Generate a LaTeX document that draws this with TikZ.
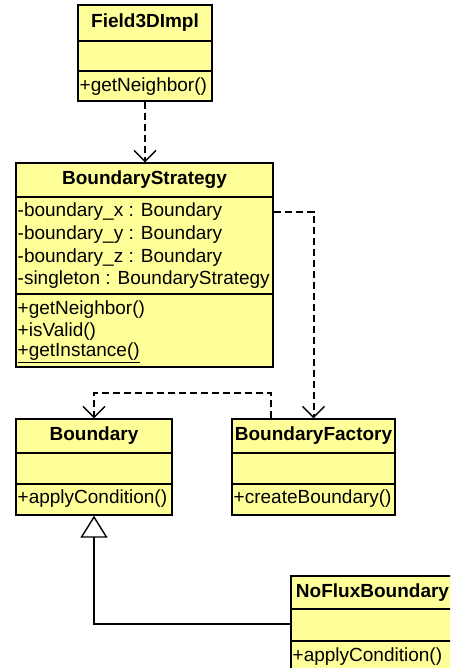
\documentclass[tikz,border=0pt]{standalone}
\usepackage{fontspec}
\setmainfont{Liberation Sans}
\usetikzlibrary{arrows.meta,calc}
\definecolor{umlfill}{HTML}{FFFF99}
\tikzset{
  umlbox/.style={draw=black, fill=umlfill, line width=1.3pt, inner sep=0pt, rectangle},
  divider/.style={draw=black, line width=1.3pt},
  txt/.style={anchor=base west, inner sep=0pt, font=\fontsize{19}{23}\selectfont},
  ttl/.style={inner sep=0pt, font=\fontsize{19}{23}\selectfont\bfseries},
  dep/.style={draw=black, line width=2pt, dash pattern=on 7pt off 4pt,
    -{Straight Barb[length=11pt,width=22pt,line width=1.4pt]}},
  inherit/.style={draw=black, line width=1.4pt,
    -{Triangle[open,length=22pt,width=27pt,line width=1.4pt,fill=white]}}
}
\begin{document}
\begin{tikzpicture}[x=1pt,y=-1pt]
\useasboundingbox (0,0) rectangle (450,668);
\clip (0,0) rectangle (450,668);
\fill[white] (0,0) rectangle (450,668);

% Field3DImpl
\node[umlbox, minimum width=134pt, minimum height=96pt] (F) at (145,53) {};
\draw[divider] (78,41) -- (212,41);
\draw[divider] (78,71) -- (212,71);
\node[ttl] (Ft) at (145,23) {Field3DImpl};
\node[txt] (Fm1) at (79.5,91.5) {+getNeighbor()};

% BoundaryStrategy
\node[umlbox, minimum width=257pt, minimum height=204pt] (S) at (144.5,265) {};
\draw[divider] (16,197) -- (273,197);
\draw[divider] (16,294) -- (273,294);
\node[ttl] (St) at (144.5,180) {BoundaryStrategy};
\node[txt] (Sa1) at (17.5,216.5) {-boundary\_x : Boundary};
\node[txt] (Sa2) at (17.5,239.3) {-boundary\_y : Boundary};
\node[txt] (Sa3) at (17.5,262) {-boundary\_z : Boundary};
\node[txt] (Sa4) at (17.5,284.8) {-singleton : BoundaryStrategy};
\node[txt] (Sm1) at (17.5,314) {+getNeighbor()};
\node[txt] (Sm2) at (17.5,336.3) {+isValid()};
\node[txt] (Sm3) at (17.5,356.5) {\underline{+getInstance()}};

% Boundary
\node[umlbox, minimum width=156pt, minimum height=96pt] (B) at (94,467) {};
\draw[divider] (16,453) -- (172,453);
\draw[divider] (16,484) -- (172,484);
\node[ttl] (Bt) at (94,436) {Boundary};
\node[txt] (Bm1) at (17.5,503.3) {+applyCondition()};

% BoundaryFactory
\node[umlbox, minimum width=163pt, minimum height=96pt] (BF) at (313.5,467) {};
\draw[divider] (232,453) -- (395,453);
\draw[divider] (232,484) -- (395,484);
\node[ttl] (BFt) at (313.5,436) {BoundaryFactory};
\node[txt] (BFm1) at (233.5,503.3) {+createBoundary()};

% NoFluxBoundary
\node[umlbox, minimum width=163pt, minimum height=96pt] (N) at (372.5,624) {};
\draw[divider] (291,609) -- (454,609);
\draw[divider] (291,641) -- (454,641);
\node[ttl] (Nt) at (372.5,592.5) {NoFluxBoundary};
\node[txt] (Nm1) at (292.5,661) {+applyCondition()};

% connectors
\draw[dep] (F.south) -- (F.south |- S.north);
\draw[dep] (S.east |- Sa1) -| (BF.north);
\draw[dep] ($(BF.north west)+(40,0)$) -- ++(0,-25) -| (B.north);
\draw[inherit] (N.west) -| (B.south);
\end{tikzpicture}
\end{document}
